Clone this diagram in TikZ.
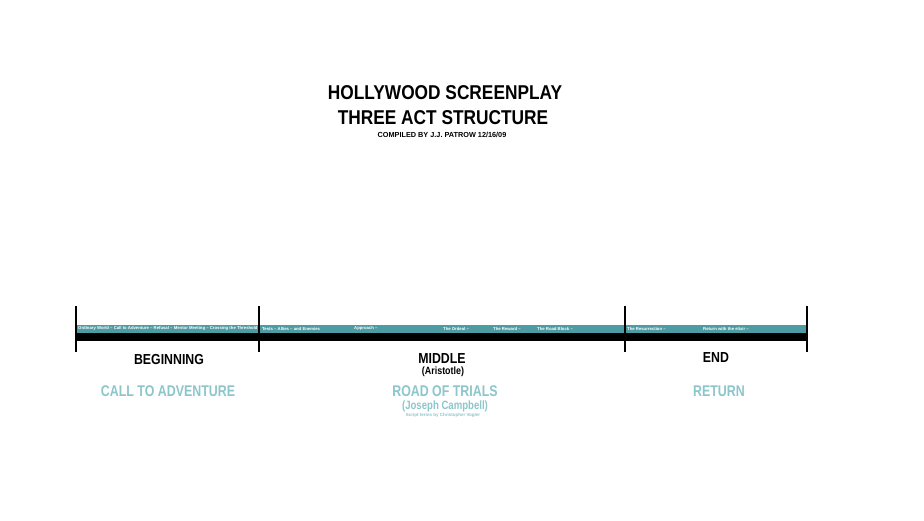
\documentclass[tikz,border=0pt]{standalone}
\usepackage{fontspec}
\setmainfont{Liberation Sans}
\newfontfamily\condA[FakeStretch=0.865]{Liberation Sans}
\newfontfamily\condB[FakeStretch=0.85]{Liberation Sans}
\newfontfamily\condC[FakeStretch=0.8]{Liberation Sans}
\definecolor{barteal}{HTML}{4E9CA3}
\definecolor{lightteal}{HTML}{8CC6CA}
\begin{document}
\begin{tikzpicture}[x=1pt,y=-1pt,
  title/.style={font=\condA\fontsize{20}{22}\selectfont\bfseries, inner sep=0pt},
  act/.style={font=\condB\fontsize{14.5}{15}\selectfont\bfseries, inner sep=0pt},
  sub/.style={font=\condB\fontsize{10.5}{11}\selectfont\bfseries, inner sep=0pt},
  theme/.style={font=\condC\fontsize{15.5}{16}\selectfont\bfseries, text=lightteal, inner sep=0pt},
  beat/.style={font=\fontsize{4.25}{5}\selectfont\bfseries, text=white, inner sep=0pt, anchor=west},
  tick/.style={line width=1.4pt, black}]
\useasboundingbox[fill=white] (0,0) rectangle (924,520);
% title
\node[title] (t1) at (445,93) {HOLLYWOOD SCREENPLAY};
\node[title] (t2) at (443,118) {THREE ACT STRUCTURE};
\node[font=\fontsize{7.3}{8}\selectfont\bfseries, inner sep=0pt] (t3) at (442,135) {COMPILED BY J.J. PATROW 12/16/09};
% bars
\fill[barteal] (76,324.5) rectangle (807,333);
\fill[black] (76,333) rectangle (807,341);
% ticks
\coordinate (a1) at (76,306); \coordinate (a2) at (76,352);
\coordinate (b1) at (259,306); \coordinate (b2) at (259,352);
\coordinate (c1) at (625,306); \coordinate (c2) at (625,352);
\coordinate (d1) at (807,306); \coordinate (d2) at (807,352);
\draw[tick] (a1) -- (a2);
\draw[tick] (b1) -- (b2);
\draw[tick] (c1) -- (c2);
\draw[tick] (d1) -- (d2);
% beats
\node[beat] (s1) at (78,328.5) {Ordinary World -- Call to Adventure -- Refusal -- Mentor Meeting -- Crossing the Threshold};
\node[beat] (s2) at (262,328.5) {Tests -- Allies -- and Enemies};
\node[beat] (s3) at (354,328.5) {Approach --};
\node[beat] (s4) at (443,328.5) {The Ordeal --};
\node[beat] (s5) at (493,328.5) {The Reward --};
\node[beat] (s6) at (537,328.5) {The Road Block --};
\node[beat] (s7) at (627,328.5) {The Resurrection --};
\node[beat] (s8) at (703,328.5) {Return with the elixir --};
% acts
\node[act] (beg) at (169,360) {BEGINNING};
\node[act] (mid) at (442,359) {MIDDLE};
\node[sub] (ari) at (443,372) {(Aristotle)};
\node[act] (end) at (716,358) {END};
% themes
\node[theme] (call) at (168,391) {CALL TO ADVENTURE};
\node[theme] (road) at (445,391) {ROAD OF TRIALS};
\node[font=\condC\fontsize{12}{13}\selectfont\bfseries, text=lightteal, inner sep=0pt] (jc) at (445,406) {(Joseph Campbell)};
\node[font=\fontsize{4.5}{5}\selectfont\bfseries, text=lightteal, inner sep=0pt] (cv) at (443,415) {Script terms by Christopher Vogler};
\node[theme] (ret) at (719,391) {RETURN};
\end{tikzpicture}
\end{document}
